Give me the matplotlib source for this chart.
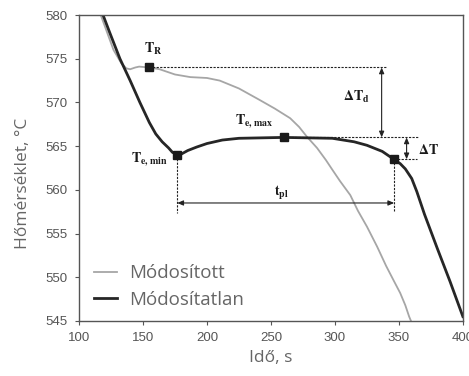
import numpy as np
import matplotlib
matplotlib.use('Agg')
import matplotlib.pyplot as plt

# adatok
t_mod = [114, 117, 122, 127, 133, 137, 140, 144, 147, 155, 163, 175, 187, 200, 210, 225, 241,
         253, 265, 272, 278, 286, 293, 298, 304, 312, 318, 325, 333, 340, 346, 351, 355, 358, 360]
T_mod = [581.5, 580.0, 578.0, 576.0, 574.5, 573.9, 573.8, 574.0, 574.1, 574.0, 573.8, 573.2,
         572.9, 572.8, 572.5, 571.6, 570.3, 569.3, 568.2, 567.2, 566.1, 564.8, 563.4, 562.3,
         561.0, 559.4, 557.6, 555.8, 553.5, 551.3, 549.6, 548.2, 546.8, 545.5, 544.8]

t_orig = [116, 118.8, 124, 132, 140, 147.6, 155, 160, 165, 170, 173, 176.8, 180, 185, 192,
          200, 212, 225, 260, 298, 315, 325, 337, 346, 351, 355, 360, 364, 370, 380, 390, 400]
T_orig = [581.5, 580.0, 578.0, 575.0, 572.5, 570.0, 567.7, 566.4, 565.5, 564.8, 564.3, 564.0,
          564.1, 564.5, 564.9, 565.3, 565.7, 565.9, 566.0, 565.9, 565.5, 565.1, 564.4, 563.5,
          563.0, 562.4, 561.3, 559.8, 557.2, 553.3, 549.5, 545.5]

# jellemző pontok
t_R, T_R = 155, 574.0
t_emin, T_emin = 176.8, 564.0
t_emax, T_emax = 260, 566.0
t_end, T_end = 346.3, 563.5

xticks = [100, 150, 200, 250, 300, 350, 400]
yticks = [545, 550, 555, 560, 565, 570, 575, 580]

plt.rcParams['mathtext.fontset'] = 'stix'

fig = plt.figure(figsize=(4.69, 3.76), dpi=100)
ax = fig.add_axes([0.1684, 0.1463, 0.8186, 0.8137])

ax.plot(t_mod, T_mod, color='#a6a6a6', lw=1.3, label='Módosított')
ax.plot(t_orig, T_orig, color='#262626', lw=2.0, label='Módosítatlan')

# pontok
ax.plot([t_R, t_emin, t_emax, t_end], [T_R, T_emin, T_emax, T_end], 's',
        color='#1a1a1a', ms=5.5, zorder=5)

dot = dict(color='#222222', lw=0.8, ls=(0, (2, 1.2)))
ax.plot([t_R, 340], [T_R, T_R], **dot)
ax.plot([t_emax, 365], [T_emax, T_emax], **dot)
ax.plot([t_end, 364], [T_end, T_end], **dot)
ax.plot([t_emin, t_emin], [T_emin, 557.4], **dot)
ax.plot([t_end, t_end], [T_end, 557.5], **dot)

arr = dict(arrowstyle='<|-|>,head_length=0.35,head_width=0.15', color='#222222', lw=0.8,
           shrinkA=0, shrinkB=0)
ax.annotate('', xy=(336.5, T_R), xytext=(336.5, T_emax), arrowprops=arr)
ax.annotate('', xy=(356, T_emax), xytext=(356, T_end), arrowprops=arr)
ax.annotate('', xy=(t_emin, 558.5), xytext=(t_end, 558.5), arrowprops=arr)

lab = dict(fontsize=10, color='#1a1a1a', va='center')
ax.text(158, 576.1, r'$\mathbf{T_{R}}$', ha='center', **lab)
ax.text(169.5, 563.5, r'$\mathbf{T_{e,\,min}}$', ha='right', **lab)
ax.text(236.7, 567.9, r'$\mathbf{T_{e,\,max}}$', ha='center', **lab)
ax.text(327, 570.6, r'$\mathbf{\Delta T_{d}}$', ha='right', **lab)
ax.text(364.8, 564.6, r'$\mathbf{\Delta T}$', ha='left', **lab)
ax.text(258, 559.6, r'$\mathbf{t_{pl}}$', ha='center', **lab)

ax.set_xlim(100, 400)
ax.set_ylim(545, 580)
ax.set_xticks(xticks)
ax.set_yticks(yticks)
ax.tick_params(direction='out', length=3, width=0.8, colors='#555555', labelsize=9.5,
               pad=5, labelcolor='#555555')
for lb in ax.get_xticklabels() + ax.get_yticklabels():
    lb.set_family('Liberation Sans')
for s in ax.spines.values():
    s.set_color('#555555')
    s.set_linewidth(1.0)

ax.set_xlabel('Idő, s', family='Open Sans', fontsize=12.5, color='#666666', labelpad=4)
ax.set_ylabel('Hőmérséklet, °C', family='Open Sans', fontsize=12.5, color='#666666')
ax.yaxis.set_label_coords(-0.125, 0.45)

leg = ax.legend(loc='lower left', bbox_to_anchor=(0.0, -0.01), frameon=False,
                prop={'family': 'Open Sans', 'size': 13.5}, handlelength=1.25,
                handletextpad=0.64, labelspacing=0.47, borderaxespad=0.4)
for tx in leg.get_texts():
    tx.set_color('#666666')

fig.savefig('out.png', dpi=100)
